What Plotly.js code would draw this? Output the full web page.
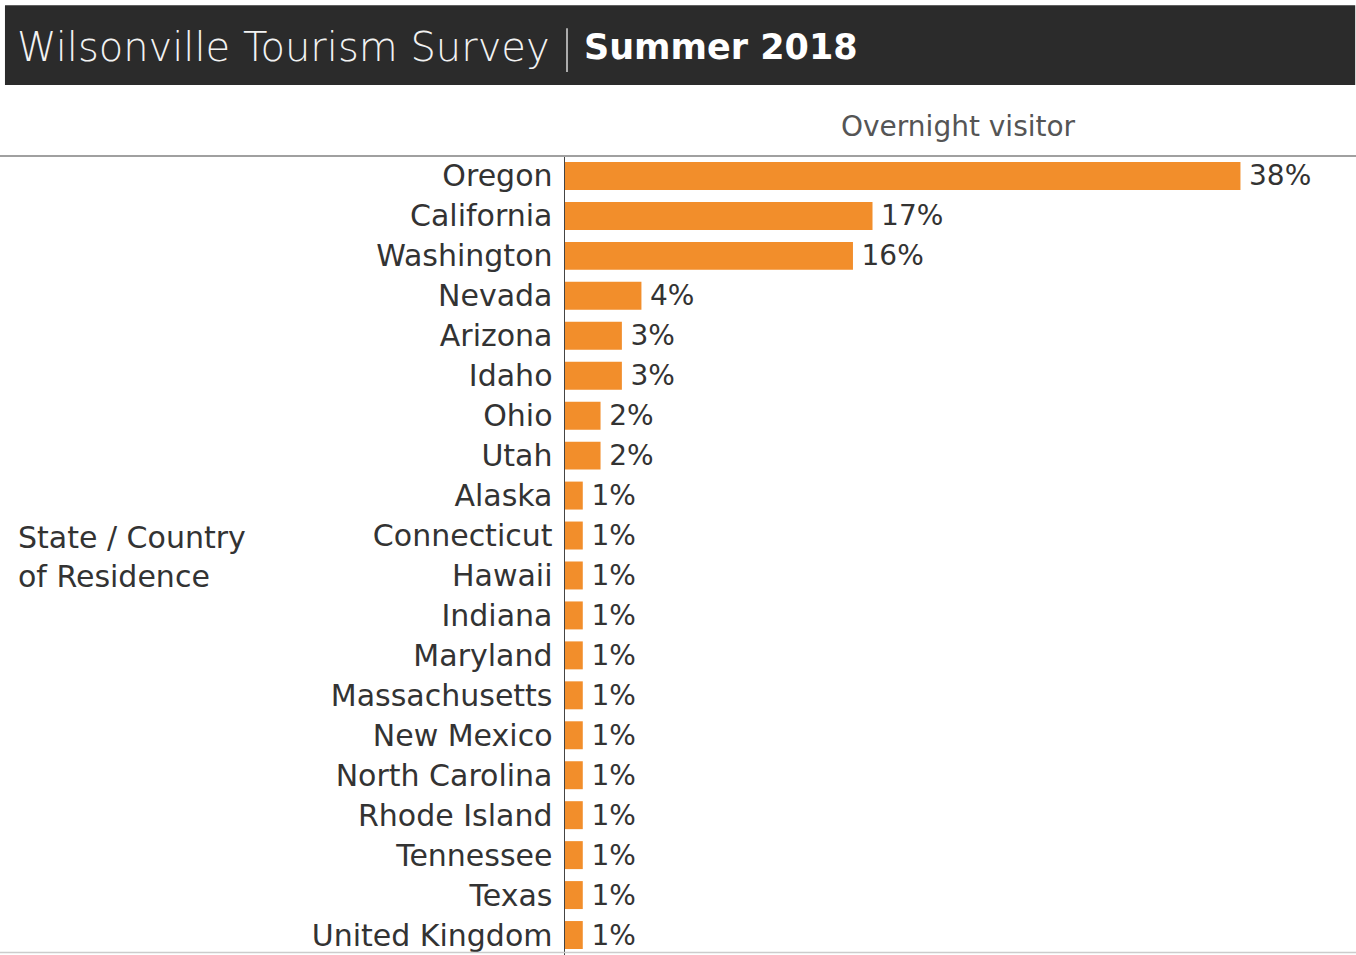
<!DOCTYPE html>
<html>
<head>
<meta charset="utf-8">
<script src="https://cdn.plot.ly/plotly-3.0.1.min.js"></script>
<style>
html,body{margin:0;padding:0;background:#fff;}
#chart{width:1356px;height:955px;}
</style>
</head>
<body>
<div id="chart"></div>
<script>
var categories = ["Oregon","California","Washington","Nevada","Arizona","Idaho","Ohio","Utah","Alaska","Connecticut","Hawaii","Indiana","Maryland","Massachusetts","New Mexico","North Carolina","Rhode Island","Tennessee","Texas","United Kingdom"];
var overnightPct = [38.0,17.3,16.2,4.3,3.2,3.2,2.0,2.0,1.0,1.0,1.0,1.0,1.0,1.0,1.0,1.0,1.0,1.0,1.0,1.0];
var titleLight = "Wilsonville Tourism Survey";
var titleBold = "Summer 2018";
var columnHeader = "Overnight visitor";
var rowHeader = "State / Country<br>of Residence";

var FONT = "DejaVu Sans, sans-serif";
var TXT = "#333333";

var trace = {
  type: "bar",
  orientation: "h",
  y: categories,
  x: overnightPct,
  marker: {color: "#F28E2B"},
  text: overnightPct.map(function(v){return "\u2009" + Math.round(v) + "%";}),
  textposition: "outside",
  constraintext: "none",
  cliponaxis: false,
  textfont: {family: FONT, size: 28, color: TXT},
  hoverinfo: "skip"
};

var layout = {
  width: 1356,
  height: 955,
  margin: {l: 565, r: 0, t: 156, b: 0},
  paper_bgcolor: "#ffffff",
  plot_bgcolor: "#ffffff",
  showlegend: false,
  bargap: 0.3,
  xaxis: {
    range: [0, 44.5],
    showgrid: false, zeroline: false, showticklabels: false, ticks: "",
    showline: false, fixedrange: true
  },
  yaxis: {
    autorange: "reversed",
    showgrid: false, zeroline: false,
    showline: true, linecolor: "#444444", linewidth: 1.5,
    ticks: "", ticklen: 0,
    tickfont: {family: FONT, size: 30, color: TXT},
    ticklabelstandoff: 5,
    automargin: false, fixedrange: true
  },
  shapes: [
    {type: "rect", xref: "paper", yref: "paper", x0: -0.708, x1: 0.999, y0: 1.08875, y1: 1.18875,
     fillcolor: "#2b2b2b", line: {width: 0}, layer: "below"},
    {type: "line", xref: "paper", yref: "paper", x0: 0.00253, x1: 0.00253, y0: 1.105, y1: 1.16,
     line: {color: "#d8d8d8", width: 1.5}},
    {type: "line", xref: "paper", yref: "paper", x0: -0.715, x1: 1, y0: 1.0, y1: 1.0,
     line: {color: "#a0a0a0", width: 2}},
    {type: "line", xref: "paper", yref: "paper", x0: -0.715, x1: 1, y0: 0.003, y1: 0.003,
     line: {color: "#cccccc", width: 1.5}}
  ],
  annotations: [
    {xref: "paper", yref: "paper", x: -0.6953, y: 1.136, xanchor: "left", yanchor: "middle",
     showarrow: false, align: "left", text: titleLight,
     font: {family: FONT, size: 40, color: "#f2f2f2", weight: 300}},
    {xref: "paper", yref: "paper", x: 0.022, y: 1.136, xanchor: "left", yanchor: "middle",
     showarrow: false, align: "left", text: titleBold,
     font: {family: FONT, size: 35, color: "#ffffff", weight: 700}},
    {xref: "paper", yref: "paper", x: 0.497, y: 1.0375, xanchor: "center", yanchor: "middle",
     showarrow: false, text: columnHeader,
     font: {family: FONT, size: 28, color: "#555555"}},
    {xref: "paper", yref: "paper", x: -0.694, y: 0.4975, xanchor: "left", yanchor: "middle",
     showarrow: false, align: "left", text: rowHeader,
     font: {family: FONT, size: 30, color: TXT}}
  ]
};

Plotly.newPlot("chart", [trace], layout, {displayModeBar: false, staticPlot: true});
</script>
</body>
</html>
